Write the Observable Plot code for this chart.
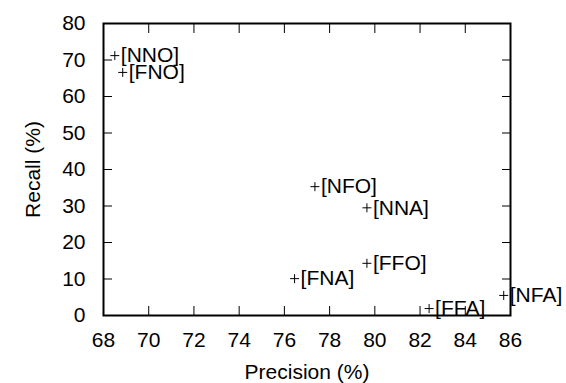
<!DOCTYPE html>
<html>
<head>
<meta charset="utf-8">
<script src="https://cdn.jsdelivr.net/npm/d3@7"></script>
<script src="https://cdn.jsdelivr.net/npm/@observablehq/plot@0.6"></script>
<style>
  html, body { margin: 0; padding: 0; background: #fff; }
  #chart svg { display: block; }
</style>
</head>
<body>
<div id="chart"></div>
<script>
const names = ["NNO", "FNO", "NFO", "NNA", "FFO", "FNA", "NFA", "FFA"];
const precision = [68.5, 68.85, 77.35, 79.65, 79.65, 76.45, 85.7, 82.4];
const recall = [71.2, 66.6, 35.3, 29.5, 14.3, 10.1, 5.5, 1.9];
const xTicks = [68, 70, 72, 74, 76, 78, 80, 82, 84, 86];
const yTicks = [0, 10, 20, 30, 40, 50, 60, 70, 80];

const data = names.map((n, i) => ({name: n, x: precision[i], y: recall[i]}));

const plusSym = {
  draw(context, size) {
    const r = Math.sqrt(size / Math.PI);
    context.moveTo(-r, 0); context.lineTo(r, 0);
    context.moveTo(0, -r); context.lineTo(0, r);
  }
};

const chart = Plot.plot({
  width: 566,
  height: 383,
  marginLeft: 103,
  marginRight: 56,
  marginTop: 23,
  marginBottom: 68,
  style: {fontFamily: "'Liberation Sans', Arial, sans-serif", fontSize: "21px", color: "black", background: "white"},
  x: {domain: [68, 86]},
  y: {domain: [0, 80]},
  marks: [
    Plot.axisX({ticks: xTicks, tickSize: -9, tickPadding: 26, tickFormat: d => d, fontSize: 21,
      label: "Precision (%)", labelAnchor: "center", labelArrow: "none", labelOffset: 63}),
    Plot.axisX({anchor: "top", ticks: xTicks, tickSize: -9, tickFormat: () => "", label: null}),
    Plot.axisY({ticks: yTicks, tickSize: -9, tickPadding: 27, tickFormat: d => d, fontSize: 21,
      label: "Recall (%)", labelAnchor: "center", labelArrow: "none", labelOffset: 78}),
    Plot.axisY({anchor: "right", ticks: yTicks, tickSize: -9, tickFormat: () => "", label: null}),
    Plot.frame({stroke: "black", strokeWidth: 2}),
    Plot.dot(data, {x: "x", y: "y", symbol: plusSym, r: 4.5, fill: "none", stroke: "black", strokeWidth: 1}),
    Plot.text(data, {x: "x", y: "y", text: d => `[${d.name}]`, textAnchor: "start", lineAnchor: "middle", dx: 6, fontSize: 21, fill: "black"})
  ]
});
document.getElementById("chart").appendChild(chart);
</script>
</body>
</html>
